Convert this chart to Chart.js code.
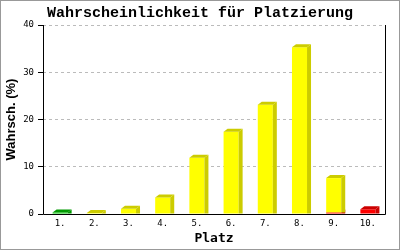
<!DOCTYPE html>
<html><head><meta charset="utf-8">
<style>html,body{margin:0;padding:0;background:#fff}canvas{display:block}</style>
<script src="https://cdn.jsdelivr.net/npm/chart.js@4"></script>
</head>
<body>
<canvas id="c" width="400" height="250"></canvas>
<script>
const categories = ['1.','2.','3.','4.','5.','6.','7.','8.','9.','10.'];
const greenValues  = [0.3, 0, 0, 0, 0, 0, 0, 0, 0, 0];
const yellowValues = [0, 0.2, 1.1, 3.5, 11.9, 17.4, 23.1, 35.3, 7.3, 0];
const redValues    = [0, 0, 0, 0, 0, 0, 0, 0, 0.3, 1.0];
const yTicks = [0, 10, 20, 30, 40];

const depthPlugin = {
  id: 'depth',
  afterDatasetsDraw(chart) {
    const ctx = chart.ctx, D = 4, U = 3;
    ctx.save();
    const tops = [];
    chart.data.datasets.forEach((ds, di) => {
      const meta = chart.getDatasetMeta(di);
      meta.data.forEach((el, i) => {
        if (!ds.data[i]) return;
        const p = el.getProps(['x', 'y', 'base', 'width'], true);
        const x1 = p.x + p.width / 2;
        ctx.fillStyle = ds.sideColor;
        ctx.beginPath();
        ctx.moveTo(x1, p.base); ctx.lineTo(x1, p.y);
        ctx.lineTo(x1 + D, p.y - U); ctx.lineTo(x1 + D, p.base);
        ctx.closePath(); ctx.fill();
        if (!tops[i] || p.y < tops[i].y) tops[i] = {y: p.y, x: p.x, w: p.width, c: ds.sideColor};
      });
    });
    tops.forEach(t => {
      if (!t) return;
      const x0 = t.x - t.w / 2, x1 = t.x + t.w / 2;
      ctx.fillStyle = t.c;
      ctx.beginPath();
      ctx.moveTo(x0, t.y); ctx.lineTo(x0 + D, t.y - U);
      ctx.lineTo(x1 + D, t.y - U); ctx.lineTo(x1, t.y);
      ctx.closePath(); ctx.fill();
    });
    ctx.restore();
  },
  afterDraw(chart) {
    const ctx = chart.ctx, a = chart.chartArea;
    ctx.save();
    ctx.strokeStyle = '#000'; ctx.lineWidth = 1;
    ctx.beginPath();
    ctx.moveTo(Math.round(a.left) + 0.5, a.top);
    ctx.lineTo(Math.round(a.left) + 0.5, Math.round(a.bottom) + 0.5);
    ctx.lineTo(Math.round(a.right) + 0.5, Math.round(a.bottom) + 0.5);
    ctx.lineTo(Math.round(a.right) + 0.5, a.top);
    ctx.stroke();
    ctx.strokeStyle = '#999'; ctx.lineWidth = 2;
    ctx.strokeRect(0, 0, chart.width, chart.height);
    ctx.restore();
  }
};

new Chart(document.getElementById('c'), {
  type: 'bar',
  data: {
    labels: categories,
    datasets: [
      {data: greenValues, backgroundColor: '#00cc00', sideColor: '#009900'},
      {data: redValues, backgroundColor: '#ff0000', sideColor: '#cc0000'},
      {data: yellowValues, backgroundColor: '#ffff00', sideColor: '#cccc00'}
    ]
  },
  options: {
    responsive: false,
    animation: false,
    layout: {padding: 0},
    datasets: {bar: {barPercentage: 0.88, categoryPercentage: 0.5, borderWidth: 0}},
    plugins: {
      legend: {display: false},
      tooltip: {enabled: false},
      title: {
        display: true,
        text: 'Wahrscheinlichkeit für Platzierung',
        color: '#000',
        font: {family: 'Liberation Mono', size: 15, weight: 'bold'},
        padding: {top: 4, bottom: 3}
      }
    },
    scales: {
      x: {
        stacked: true,
        offset: true,
        grid: {display: false, drawTicks: false},
        border: {display: false},
        ticks: {color: '#000', font: {family: 'DejaVu Sans Mono', size: 9}, padding: 4},
        title: {display: true, text: 'Platz', color: '#000',
          font: {family: 'DejaVu Sans Mono', size: 13, weight: 'bold'}, padding: {top: 0, bottom: 4}},
        afterFit(s) { s.height = 36; }
      },
      y: {
        stacked: true,
        min: 0, max: 40,
        afterBuildTicks(s) { s.ticks = yTicks.map(v => ({value: v})); },
        grid: {color: '#bbbbbb', drawTicks: true, tickLength: 5, tickColor: '#000'},
        border: {display: false, dash: [3, 3]},
        ticks: {color: '#000', font: {family: 'DejaVu Sans Mono', size: 9}, padding: 4},
        title: {display: true, text: 'Wahrsch. (%)', color: '#000',
          font: {family: 'Liberation Sans', size: 13, weight: 'bold'}, padding: {top: 4, bottom: 0}},
        afterFit(s) { s.width = 43; }
      },
      yRight: {
        position: 'right',
        display: true,
        grid: {display: false, drawTicks: false},
        border: {display: false},
        ticks: {display: false},
        afterFit(s) { s.width = 15; }
      }
    }
  },
  plugins: [depthPlugin]
});
</script>
</body></html>
